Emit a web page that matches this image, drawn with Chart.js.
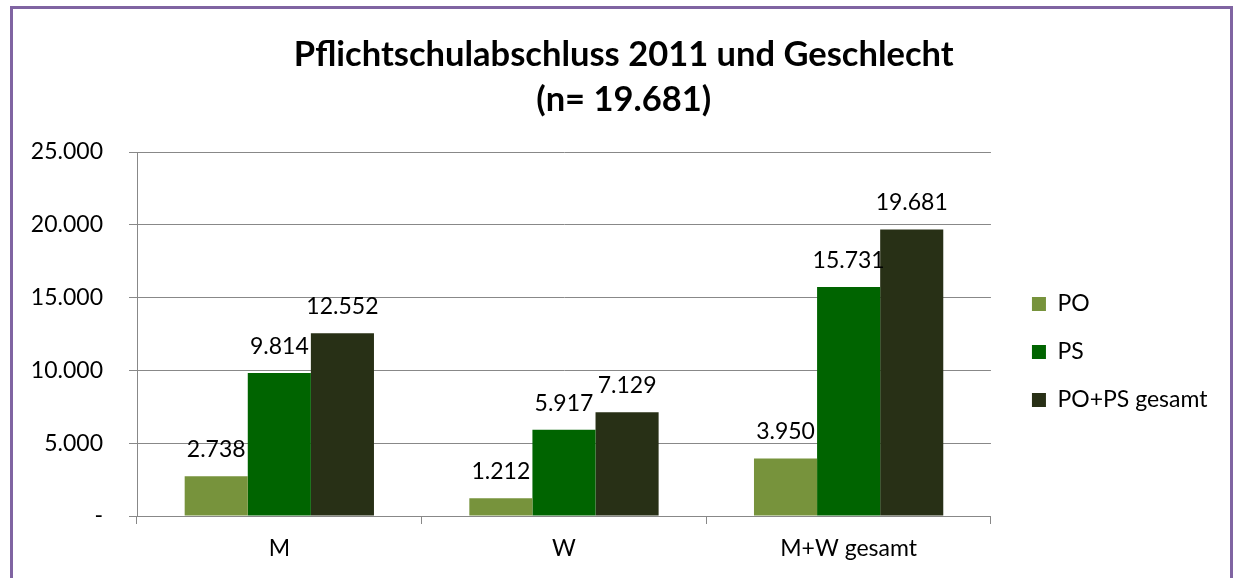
<!DOCTYPE html>
<html>
<head>
<meta charset="utf-8">
<script src="https://cdn.jsdelivr.net/npm/chart.js@4"></script>
<style>
  html, body { margin: 0; padding: 0; background: #fff; overflow: hidden; }
  #frame {
    position: absolute; left: 10px; top: 6px;
    width: 1217px; height: 686px;
    border: 3px solid #8064a2;
  }
</style>
</head>
<body>
<div id="frame"><canvas id="barchart" width="1217" height="686"></canvas></div>
<script>
const categories = ['M', 'W', 'M+W gesamt'];
const seriesNames = ['PO', 'PS', 'PO+PS gesamt'];
const poValues = [2738, 1212, 3950];
const psValues = [9814, 5917, 15731];
const totalValues = [12552, 7129, 19681];
const titleLines = ['Pflichtschulabschluss 2011 und Geschlecht', '(n= 19.681)'];

const font = 'Lato';

function fmt(v) {
    if (v === 0) return '-';
    return String(v).replace(/\B(?=(\d{3})+(?!\d))/g, '.');
}

// draws the value above each bar
const valueLabels = {
    id: 'valueLabels',
    afterDatasetsDraw(chart) {
        const c = chart.ctx;
        c.save();
        c.font = '23px ' + font;
        c.fillStyle = '#000';
        c.textAlign = 'center';
        c.textBaseline = 'alphabetic';
        chart.data.datasets.forEach((ds, i) => {
            chart.getDatasetMeta(i).data.forEach((bar, j) => {
                c.fillText(fmt(ds.data[j]), bar.x, bar.y - 19);
            });
        });
        c.restore();
    }
};

// wider gap between plot and legend, title a bit right of centre
const nudge = {
    id: 'nudge',
    afterLayout(chart) {
        chart.legend.left += 16;
        chart.legend.right += 16;
        chart.titleBlock.left += 9;
        chart.titleBlock.right += 9;
    }
};

function draw() {
    const ctx = document.getElementById('barchart');
    new Chart(ctx, {
        type: 'bar',
        data: {
            labels: categories,
            datasets: [
                { label: seriesNames[0], data: poValues, backgroundColor: '#77933c' },
                { label: seriesNames[1], data: psValues, backgroundColor: '#006400' },
                { label: seriesNames[2], data: totalValues, backgroundColor: '#283016' }
            ]
        },
        options: {
            responsive: false,
            animation: false,
            categoryPercentage: 0.665,
            barPercentage: 1,
            layout: { padding: { left: 15, right: 28.5, top: 0, bottom: 0 } },
            plugins: {
                title: {
                    display: true,
                    text: titleLines,
                    color: '#000',
                    font: { family: font, size: 34.5, weight: 'bold', lineHeight: 1.3 },
                    padding: { top: 23.5, bottom: 29.8 }
                },
                legend: {
                    position: 'right',
                    labels: {
                        boxWidth: 14,
                        boxHeight: 14,
                        padding: 25,
                        color: '#000',
                        font: { family: font, size: 23 }
                    }
                },
                tooltip: { enabled: false }
            },
            scales: {
                x: {
                    grid: { drawOnChartArea: false, tickLength: 8, color: '#888', offset: true },
                    border: { color: '#888' },
                    ticks: { color: '#000', padding: 11, font: { family: font, size: 23 } },
                    afterFit: s => { s.height = 179; }
                },
                y: {
                    min: 0,
                    max: 25000,
                    grid: { color: '#888', tickLength: 8 },
                    border: { color: '#888' },
                    ticks: {
                        stepSize: 5000,
                        color: '#000',
                        padding: 26,
                        font: { family: font, size: 23 },
                        callback: v => fmt(v)
                    },
                    afterFit: s => { s.width = 109; }
                }
            }
        },
        plugins: [valueLabels, nudge]
    });
}

Promise.all([
    document.fonts.load('23px Lato'),
    document.fonts.load('bold 34.5px Lato')
]).then(draw, draw);
</script>
</body>
</html>
